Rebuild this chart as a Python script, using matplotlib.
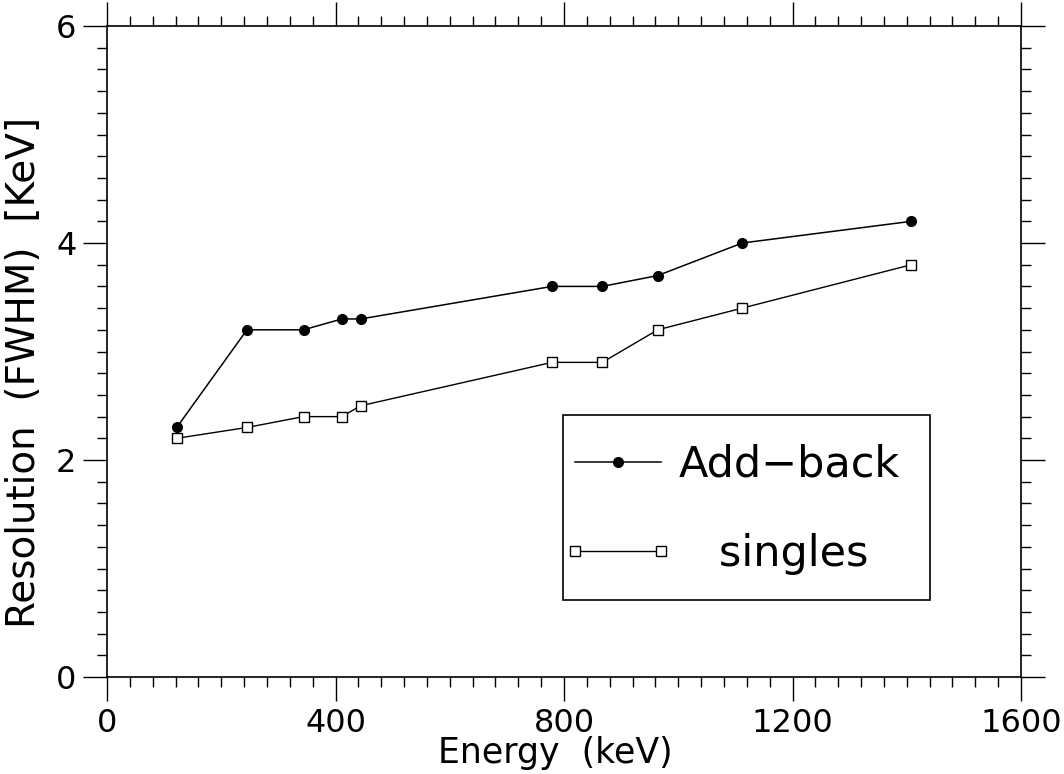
import numpy as np
import matplotlib
matplotlib.use("Agg")
import matplotlib.pyplot as plt
from matplotlib.ticker import MultipleLocator
from matplotlib.legend_handler import HandlerLine2D
from matplotlib.patches import Rectangle

# Data
energy_keV = [122, 245, 344, 411, 444, 779, 867, 964, 1112, 1408]
addback_fwhm = [2.3, 3.2, 3.2, 3.3, 3.3, 3.6, 3.6, 3.7, 4.0, 4.2]
singles_fwhm = [2.2, 2.3, 2.4, 2.4, 2.5, 2.9, 2.9, 3.2, 3.4, 3.8]

x_major = [0, 400, 800, 1200, 1600]
y_major = [0, 2, 4, 6]

plt.rcParams['font.family'] = 'DejaVu Sans'

fig = plt.figure(figsize=(10.64, 7.74), dpi=100)
ax = fig.add_axes([0.1006, 0.1253, 0.859, 0.8411])

# Plot the two series
l1, = ax.plot(energy_keV, addback_fwhm, color='black', linewidth=1.1,
              marker='o', markersize=7, markerfacecolor='black', label='Add\u2212back')
l2, = ax.plot(energy_keV, singles_fwhm, color='black', linewidth=1.0,
              marker='s', markersize=6.5, markerfacecolor='white',
              markeredgewidth=1.0, label='   singles')

ax.set_xlim(0, 1600)
ax.set_ylim(0, 6)
ax.set_xticks(x_major)
ax.set_yticks(y_major)
ax.xaxis.set_minor_locator(MultipleLocator(40))
ax.yaxis.set_minor_locator(MultipleLocator(0.2))

ax.tick_params(which='both', direction='out', top=True, right=True,
               width=1.0, color='black')
ax.tick_params(which='major', length=17, labelsize=23)
ax.tick_params(which='minor', length=7)
ax.tick_params(axis='x', pad=5)
ax.tick_params(axis='y', pad=5)
for s in ax.spines.values():
    s.set_linewidth(1.2)

ax.set_xlabel('Energy  (keV)', fontsize=25, va='top')
ax.xaxis.set_label_coords(0.49, -0.0906)
ax.set_ylabel('Resolution  (FWHM)  [KeV]', fontsize=28, va='center')
ax.yaxis.set_label_coords(-0.091, 0.468)

# Legend box
ax.add_patch(Rectangle((0.499, 0.118), 0.401, 0.2845, transform=ax.transAxes,
                       fill=False, edgecolor='black', linewidth=1.2, zorder=5))
leg = ax.legend(handles=[l1, l2],
                handler_map={l1: HandlerLine2D(numpoints=1),
                             l2: HandlerLine2D(numpoints=2, marker_pad=0)},
                loc='upper left', bbox_to_anchor=(0.512, 0.358), frameon=False,
                fontsize=31, borderpad=0, borderaxespad=0, handlelength=2.0,
                handletextpad=0.4, labelspacing=1.1)

fig.savefig('out.png', dpi=100)
